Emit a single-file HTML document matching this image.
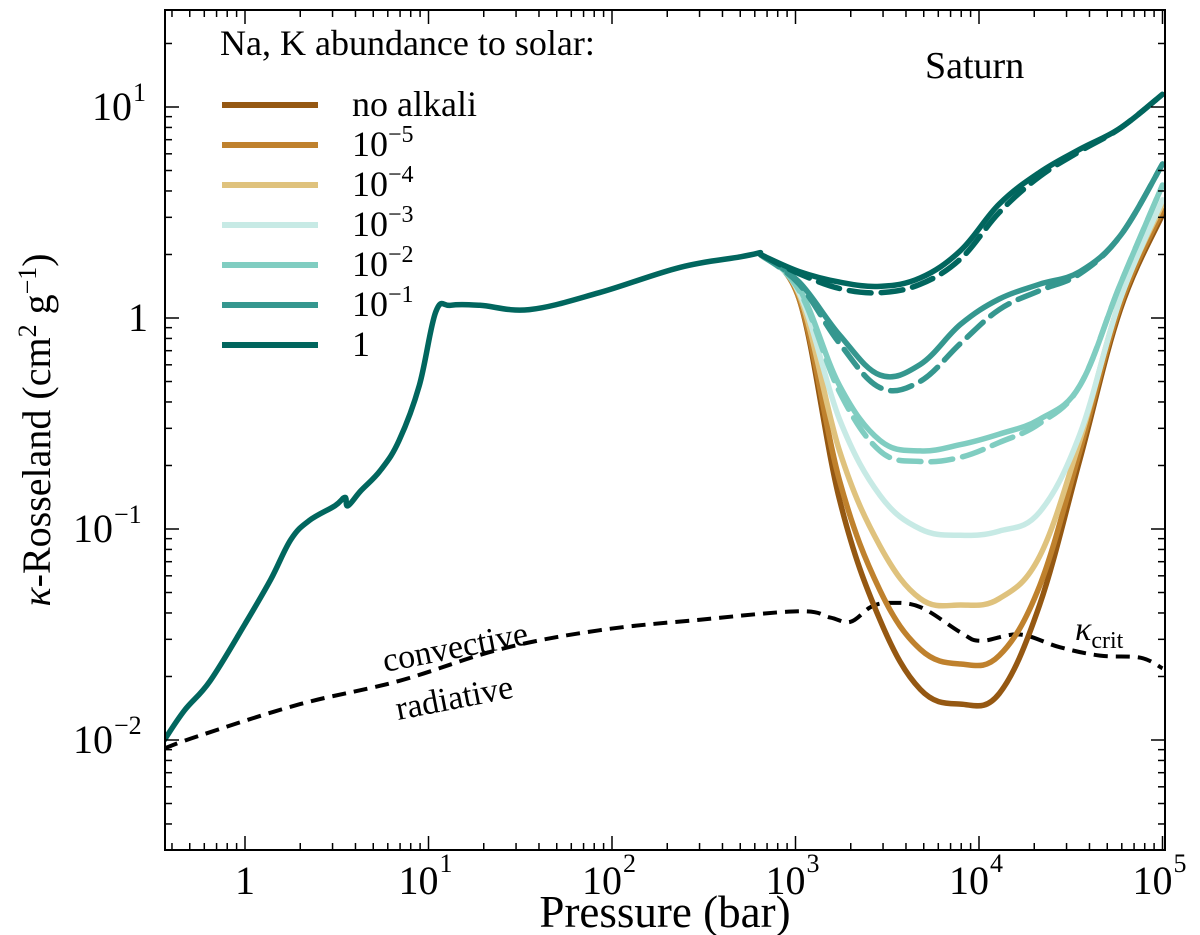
<!DOCTYPE html>
<html><head><meta charset="utf-8"><style>
body{margin:0;background:#fff;}
svg text{font-family:"Liberation Serif",serif;fill:#000;}
</style></head><body>
<div style="position:relative;width:1200px;height:935px">
<svg id="chart" width="1200" height="935" viewBox="0 0 1200 935" xmlns="http://www.w3.org/2000/svg" style="position:absolute;left:0;top:0"></svg>
<svg width="1200" height="935" style="position:absolute;left:0;top:0">
<text x="665" y="927" font-size="45" text-anchor="middle" font-family="Liberation Serif, serif">Pressure (bar)</text>
<text transform="translate(50,430) rotate(-90)" font-size="40" text-anchor="middle" font-family="Liberation Serif, serif"><tspan font-style="italic">κ</tspan>-Rosseland (cm<tspan dy="-14" font-size="26">2</tspan><tspan dy="14"> g</tspan><tspan dy="-14" font-size="26">−1</tspan><tspan dy="14">)</tspan></text>
<text x="925" y="78" font-size="38" font-family="Liberation Serif, serif">Saturn</text>
<text x="220" y="55" font-size="36" font-family="Liberation Serif, serif">Na, K abundance to solar:</text>
<g font-family="Liberation Serif, serif" font-size="36">
<line x1="222" y1="105" x2="318" y2="105" stroke="#955812" stroke-width="6"/><text x="352" y="116">no alkali</text>
<line x1="222" y1="145" x2="318" y2="145" stroke="#bf812d" stroke-width="6"/><text x="352" y="156">10<tspan dy="-14" font-size="24">−5</tspan></text>
<line x1="222" y1="185" x2="318" y2="185" stroke="#dfc27d" stroke-width="6"/><text x="352" y="196">10<tspan dy="-14" font-size="24">−4</tspan></text>
<line x1="222" y1="225" x2="318" y2="225" stroke="#c7eae5" stroke-width="6"/><text x="352" y="236">10<tspan dy="-14" font-size="24">−3</tspan></text>
<line x1="222" y1="265" x2="318" y2="265" stroke="#80cdc1" stroke-width="6"/><text x="352" y="276">10<tspan dy="-14" font-size="24">−2</tspan></text>
<line x1="222" y1="305" x2="318" y2="305" stroke="#35978f" stroke-width="6"/><text x="352" y="316">10<tspan dy="-14" font-size="24">−1</tspan></text>
<line x1="222" y1="345" x2="318" y2="345" stroke="#01665e" stroke-width="6"/><text x="352" y="356">1</text>
</g>
<text transform="translate(385,672) rotate(-11)" font-size="34" font-family="Liberation Serif, serif">convective</text>
<text transform="translate(398,720) rotate(-11)" font-size="34" font-family="Liberation Serif, serif">radiative</text>
<text x="1075" y="640" font-size="34" font-family="Liberation Serif, serif"><tspan font-style="italic">κ</tspan><tspan dy="8" font-size="24">crit</tspan></text>
</svg>
</div>
<script>
// ---- data (log10 values) ----
const baseLogP=[-0.44,-0.33,-0.19,0,0.14,0.25,0.35,0.49,0.545,0.56,0.63,0.74,0.84,0.95,1.04,1.12,1.28,1.55,1.93,2.37,2.70,2.81];
const baseLogK=[-2.0,-1.86,-1.72,-1.45,-1.24,-1.05,-0.96,-0.89,-0.85,-0.89,-0.82,-0.72,-0.58,-0.32,0.03,0.06,0.06,0.04,0.12,0.24,0.29,0.31];
const branchLogP=[2.81,3.02,3.24,3.46,3.68,3.90,4.11,4.33,4.55,4.77,5.0];
const seriesNames=["no alkali","10^-5","10^-4","10^-3","10^-2","10^-1","1"];
const seriesColors=["#955812","#bf812d","#dfc27d","#c7eae5","#80cdc1","#35978f","#01665e"];
const kNoAlkali=[0.30,0.09,-0.86,-1.43,-1.76,-1.83,-1.78,-1.36,-0.67,0.04,0.49];
const kE5=[0.30,0.09,-0.77,-1.29,-1.57,-1.64,-1.60,-1.27,-0.63,0.06,0.51];
const kE4=[0.30,0.11,-0.63,-1.08,-1.33,-1.36,-1.33,-1.13,-0.58,0.09,0.54];
const kE3=[0.30,0.12,-0.48,-0.84,-1.00,-1.03,-1.01,-0.92,-0.55,0.09,0.56];
const kE2=[0.30,0.14,-0.32,-0.58,-0.63,-0.60,-0.55,-0.48,-0.32,0.16,0.63];
const kE1=[0.30,0.17,-0.08,-0.27,-0.22,-0.03,0.09,0.16,0.22,0.39,0.73];
const kOne=[0.30,0.22,0.17,0.15,0.19,0.32,0.54,0.69,0.80,0.90,1.06];
const kE2dash=[0.30,0.13,-0.35,-0.63,-0.68,-0.66,-0.59,-0.50,-0.32,0.16,0.63];
const kE1dash=[0.30,0.16,-0.12,-0.33,-0.30,-0.12,0.04,0.13,0.21,0.39,0.73];
const kOneDash=[0.30,0.21,0.14,0.12,0.16,0.28,0.50,0.67,0.79,0.90,1.06];
const critLogP=[-0.44,-0.25,0.30,0.84,1.39,1.93,2.48,3.02,3.19,3.30,3.41,3.51,3.68,3.90,4.01,4.22,4.44,4.66,4.88,5.0];
const critLogK=[-2.04,-1.98,-1.83,-1.72,-1.57,-1.48,-1.43,-1.39,-1.42,-1.44,-1.37,-1.35,-1.37,-1.49,-1.53,-1.50,-1.56,-1.60,-1.61,-1.66];
const xTickLabels=["1","10","10","10","10","10"];
const xTickExp=["","1","2","3","4","5"];
const yTickVals=[-2,-1,0,1];
const yTickLabels=["10","10","1","10"];
const yTickExp=["−2","−1","","1"];

// ---- layout ----
const L=165,R=1165,T=10,B=850;
const X0=245, XD=183.5, Y0=318, YD=211;
const xs=lp=>X0+lp*XD;
const ys=lk=>Y0-lk*YD;
const svg=document.getElementById('chart');
const NS="http://www.w3.org/2000/svg";
function mk(tag,attrs,parent){const e=document.createElementNS(NS,tag);for(const k in attrs)e.setAttribute(k,attrs[k]);(parent||svg).appendChild(e);return e;}
const clip=mk('clipPath',{id:'pc'});mk('rect',{x:L,y:T,width:R-L,height:B-T},clip);
const plot=mk('g',{'clip-path':'url(#pc)'});


function smoothD(px,py){
  const P=px.map((v,i)=>[xs(v),ys(py[i])]);
  let d='M'+P[0][0].toFixed(1)+','+P[0][1].toFixed(1);
  const t=0.18;
  for(let i=0;i<P.length-1;i++){
    const p0=P[Math.max(0,i-1)],p1=P[i],p2=P[i+1],p3=P[Math.min(P.length-1,i+2)];
    const c1=[p1[0]+(p2[0]-p0[0])*t,p1[1]+(p2[1]-p0[1])*t];
    const c2=[p2[0]-(p3[0]-p1[0])*t,p2[1]-(p3[1]-p1[1])*t];
    d+='C'+c1[0].toFixed(1)+','+c1[1].toFixed(1)+' '+c2[0].toFixed(1)+','+c2[1].toFixed(1)+' '+p2[0].toFixed(1)+','+p2[1].toFixed(1);
  }
  return d;
}
function path(px,py,color,dash,name){
  const p=mk('path',{d:smoothD(px,py),fill:'none',stroke:color,'stroke-width':5.5,'stroke-linejoin':'round','stroke-linecap':'round'},plot);
  if(dash)p.setAttribute('stroke-dasharray',dash);
  
  
  return p;
}
const kc=path(critLogP,critLogK,'#000','14 8','kappa-crit-line');kc.setAttribute('stroke-width',4);kc.setAttribute('stroke-linecap','butt');
const allK=[kNoAlkali,kE5,kE4,kE3,kE2,kE1,kOne];
const names=['line-no-alkali','line-1e-5','line-1e-4','line-1e-3','line-1e-2','line-1e-1','line-1'];
for(let i=0;i<7;i++)path(branchLogP,allK[i],seriesColors[i],null,names[i]);
path(branchLogP,kE2dash,seriesColors[4],'22 10','line-1e-2-dashed');
path(branchLogP,kE1dash,seriesColors[5],'22 10','line-1e-1-dashed');
path(branchLogP,kOneDash,seriesColors[6],'22 10','line-1-dashed');
path(baseLogP,baseLogK,seriesColors[6],null,'line-common');

const fr=mk('rect',{x:L,y:T,width:R-L,height:B-T,fill:'none',stroke:'#000','stroke-width':2});

const tk=mk('g',{stroke:'#000','stroke-width':1.5});

for(let d=-1;d<=5;d++){for(let m=1;m<10;m++){const x=xs(d+Math.log10(m));if(x<L||x>R)continue;const len=m==1?14:7;
  mk('line',{x1:x,y1:B,x2:x,y2:B-len},tk);mk('line',{x1:x,y1:T,x2:x,y2:T+len},tk);}}
for(let d=-3;d<=1;d++){for(let m=1;m<10;m++){const y=ys(d+Math.log10(m));if(y<T||y>B)continue;const len=m==1?14:7;
  mk('line',{x1:L,y1:y,x2:L+len,y2:y},tk);mk('line',{x1:R,y1:y,x2:R-len,y2:y},tk);}}
for(let i=0;i<6;i++){const x=xs(i);
  const t=mk('text',{x:x-(xTickExp[i]?10:0),y:894,'font-size':40,'text-anchor':'middle'});t.textContent=xTickLabels[i];
  
  if(xTickExp[i]){const e=mk('text',{x:x+11,y:872,'font-size':26});e.textContent=xTickExp[i];
    }}
for(let i=0;i<4;i++){const y=ys(yTickVals[i]);
  const ex=yTickExp[i];
  const right=ex===''?148:(ex.length>1?113:132);
  const t=mk('text',{x:right,y:y+13,'font-size':40,'text-anchor':'end'});t.textContent=yTickLabels[i];
  
  if(ex){const e=mk('text',{x:right+1,y:y-6,'font-size':26});e.textContent=ex;
    }}
</script>
</body></html>
